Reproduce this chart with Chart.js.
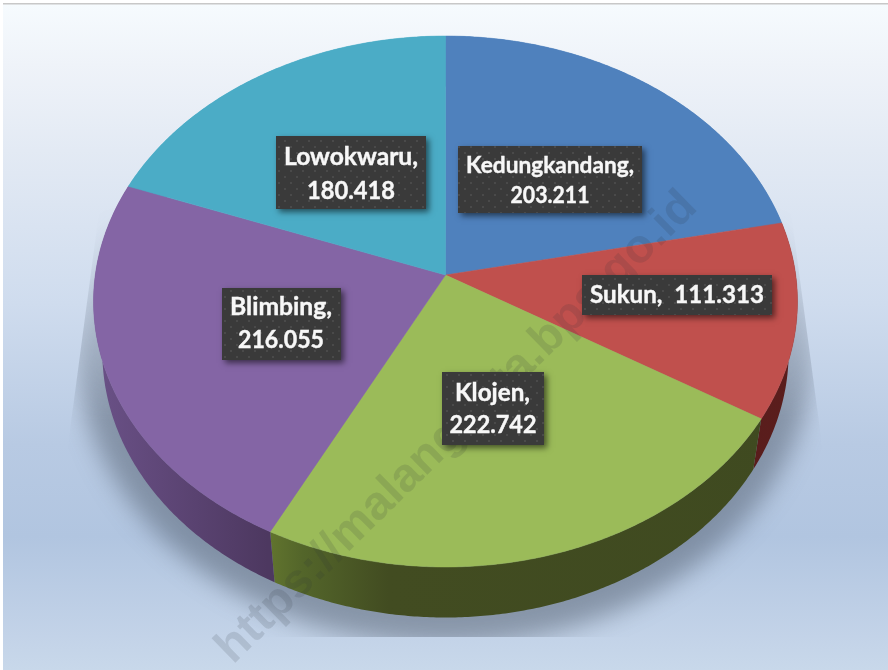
<!DOCTYPE html>
<html>
<head>
<meta charset="utf-8">
<style>html,body{margin:0;padding:0;background:#fff}canvas{display:block}</style>
<script src="https://cdn.jsdelivr.net/npm/chart.js@4"></script>
</head>
<body>
<canvas id="c" width="888" height="670"></canvas>
<script>
const categories = ["Kedungkandang", "Sukun", "Klojen", "Blimbing", "Lowokwaru"];
const values = [203211, 111313, 222742, 216055, 180418];
const topColors = ["#4f81bd", "#c0504d", "#9bbb59", "#8465a5", "#4bacc6"];
const labelLines = [
  ["Kedungkandang,", "203.211"],
  ["Sukun,  111.313"],
  ["Klojen,", "222.742"],
  ["Blimbing,", "216.055"],
  ["Lowokwaru,", "180.418"]
];
const watermark = "https://malangkota.bps.go.id";

// label layout, separate from data: box, then per line [centre x, baseline y, width]
const labelLayout = [
  {box: [458, 146, 184, 67], size: 22.5, lines: [[550, 173, 168], [550, 203, 79]]},
  {box: [582, 275, 190, 40], size: 24, lines: [[677, 303, 174]]},
  {box: [442, 372, 102, 73], size: 24, lines: [[492.5, 401, 75], [493, 433, 87]]},
  {box: [222, 288, 119, 72], size: 24, lines: [[281, 315, 102], [281, 348, 86]]},
  {box: [276, 136, 150, 73], size: 24, lines: [[351, 165, 134], [351, 199, 88]]}
];

// Perspective of the tilted disc: unit circle -> screen
const P = {cx: 445.5, cy: 275, c: 350.2, b: 235.4, k: -0.0998, depth: 50.5, shrink: 0.975};
function proj(a, r, lower) {
  const X = Math.cos(a) * r, Y = Math.sin(a) * r, d = 1 + P.k * Y;
  let x = P.c * X / d, y = (P.cy + P.b * Y) / d;
  if (lower) { x *= P.shrink; y += P.depth; }
  return [P.cx + x, y];
}
function sidePaint(ctx, i) {
  const g = ctx.createLinearGradient(90, 0, 800, 0);
  if (i === 2) {
    g.addColorStop(0.25, "#62752e"); g.addColorStop(0.30, "#53652a");
    g.addColorStop(0.42, "#424c21"); g.addColorStop(1, "#3f4a20");
  } else if (i === 3) {
    g.addColorStop(0, "#6b5288"); g.addColorStop(0.1, "#5f4778");
    g.addColorStop(0.25, "#4d3860");
  } else if (i === 1) {
    g.addColorStop(0, "#521f1e"); g.addColorStop(1, "#5a1d1c");
  } else { return topColors[i]; }
  return g;
}

const pie3d = {
  id: "pie3d",
  beforeDraw(chart) {
    const ctx = chart.ctx;
    ctx.save();
    ctx.fillStyle = "#ffffff"; ctx.fillRect(0, 0, 888, 670);
    const g = ctx.createLinearGradient(0, 4, 0, 670);
    g.addColorStop(0, "#f6fbfe"); g.addColorStop(0.09, "#eff3f9");
    g.addColorStop(0.22, "#e3eaf4"); g.addColorStop(0.45, "#cfdcee");
    g.addColorStop(0.66, "#b8cae3"); g.addColorStop(0.80, "#b1c5e0");
    g.addColorStop(0.95, "#c3d3e8"); g.addColorStop(1, "#c8d8ea");
    ctx.fillStyle = g; ctx.fillRect(3, 4, 885, 666);
    ctx.fillStyle = "#c8c8c8"; ctx.fillRect(3, 3, 885, 1.5);
    ctx.restore();
    // floor shadow: blurred disc, clipped to a trapezoid, fading towards the top
    const off = document.createElement("canvas"); off.width = 888; off.height = 670;
    const o = off.getContext("2d");
    o.save();
    o.beginPath();
    o.moveTo(100, 205); o.lineTo(68, 445); o.lineTo(40, 637); o.lineTo(850, 637);
    o.lineTo(822, 445); o.lineTo(790, 205); o.closePath(); o.clip();
    o.filter = "blur(12px)";
    o.fillStyle = "rgba(70,80,95,0.46)";
    o.beginPath(); o.ellipse(445, 348, 368, 297, 0, 0, Math.PI * 2); o.fill();
    o.restore();
    o.globalCompositeOperation = "destination-in";
    const m = o.createLinearGradient(0, 205, 0, 420);
    m.addColorStop(0, "rgba(0,0,0,0)"); m.addColorStop(1, "rgba(0,0,0,1)");
    o.fillStyle = m; o.fillRect(0, 0, 888, 670);
    ctx.drawImage(off, 0, 0);
  },
  beforeDatasetDraw(chart) {
    const ctx = chart.ctx, arcs = chart.getDatasetMeta(0).data;
    ctx.save();
    // sides
    arcs.forEach((el, i) => {
      const s = el.startAngle, e = el.endAngle, n = Math.ceil((e - s) * 120);
      ctx.beginPath();
      for (let j = 0; j <= n; j++) { const p = proj(s + (e - s) * j / n, 1); j ? ctx.lineTo(p[0], p[1]) : ctx.moveTo(p[0], p[1]); }
      for (let j = n; j >= 0; j--) { const p = proj(s + (e - s) * j / n, 1, true); ctx.lineTo(p[0], p[1]); }
      ctx.closePath();
      ctx.fillStyle = sidePaint(ctx, i);
      ctx.fill();
    });
    // top face
    arcs.forEach((el, i) => {
      const s = el.startAngle, e = el.endAngle, n = Math.ceil((e - s) * 120);
      ctx.beginPath();
      const o = proj(0, 0); ctx.moveTo(o[0], o[1]);
      for (let j = 0; j <= n; j++) { const p = proj(s + (e - s) * j / n, 1); ctx.lineTo(p[0], p[1]); }
      ctx.closePath();
      ctx.fillStyle = el.options.backgroundColor;
      ctx.strokeStyle = el.options.backgroundColor; ctx.lineWidth = 0.5;
      ctx.fill(); ctx.stroke();
    });
    ctx.restore();
    return false;
  },
  afterDatasetsDraw(chart) {
    const ctx = chart.ctx;
    // watermark
    ctx.save();
    ctx.translate(233, 665);
    ctx.rotate(-44.4 * Math.PI / 180);
    ctx.font = "bold 47px 'Liberation Sans'";
    const mw = ctx.measureText(watermark).width;
    ctx.scale(652 / mw, 1);
    ctx.fillStyle = "rgba(40,50,55,0.14)";
    ctx.textBaseline = "alphabetic";
    ctx.fillText(watermark, 0, 0);
    ctx.restore();
    // labels
    const pc = document.createElement("canvas"); pc.width = 12; pc.height = 12;
    const px = pc.getContext("2d");
    px.fillStyle = "#3a3a3a"; px.fillRect(0, 0, 12, 12);
    px.fillStyle = "#4a4a4a";
    px.fillRect(2, 2, 2, 2); px.fillRect(8, 8, 2, 2);
    const pat = ctx.createPattern(pc, "repeat");
    labelLines.forEach((lines, i) => {
      const lay = labelLayout[i];
      const [x, y, w, h] = lay.box;
      ctx.save();
      ctx.shadowColor = "rgba(0,0,0,0.55)"; ctx.shadowBlur = 6; ctx.shadowOffsetX = 3; ctx.shadowOffsetY = 3;
      ctx.fillStyle = "#3a3a3a"; ctx.fillRect(x, y, w, h);
      ctx.restore();
      ctx.fillStyle = pat; ctx.fillRect(x, y, w, h);
      lines.forEach((t, j) => {
        const [cx, by, tw] = lay.lines[j];
        ctx.save();
        ctx.font = "bold " + lay.size + "px Lato";
        ctx.textAlign = "center"; ctx.textBaseline = "alphabetic";
        const sx = tw / ctx.measureText(t).width;
        ctx.translate(cx, by); ctx.scale(sx, 1);
        ctx.fillStyle = "#f7f7f7";
        ctx.strokeStyle = "#f7f7f7"; ctx.lineWidth = 0.4;
        ctx.fillText(t, 0, 0); ctx.strokeText(t, 0, 0);
        ctx.restore();
      });
    });
  }
};

new Chart(document.getElementById("c"), {
  type: "pie",
  data: { labels: categories, datasets: [{ data: values, backgroundColor: topColors, borderWidth: 0 }] },
  options: {
    responsive: false, animation: false,
    plugins: { legend: { display: false }, tooltip: { enabled: false } }
  },
  plugins: [pie3d]
});
</script>
</body>
</html>
